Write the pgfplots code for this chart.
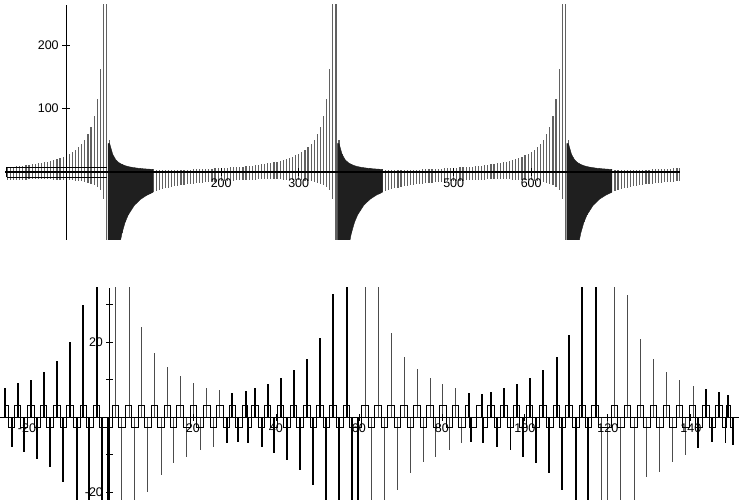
\documentclass[border=0pt]{standalone}
\usepackage{pgfplots}
\pgfplotsset{compat=1.18}
\usepackage{pgfplotstable}
\usepackage{fontspec}
\setmainfont{Liberation Sans}

\pgfplotstableread{
x u l
-76 7.9 -13.1
-72 8.3 -12.9
-68 8.7 -12.6
-64 9.2 -12.4
-60 9.7 -12.2
-56 10.2 -12.0
-52 10.8 -11.8
-48 11.4 -11.6
-44 12.1 -11.5
-40 12.8 -11.3
-36 13.6 -11.2
-32 14.5 -11.3
-28 15.5 -11.4
-24 16.5 -11.6
-20 17.7 -11.7
-16 19.0 -11.9
-12 20.4 -12.0
-8 22.0 -12.2
-4 23.9 -12.4
0 26.1 -12.7
4 28.5 -13.0
8 31.5 -13.3
12 34.9 -13.8
16 39.1 -14.3
20 44.3 -14.9
24 50.9 -15.7
28 59.5 -16.7
32 71.2 -18.1
36 88.2 -20.1
40 114.8 -23.3
44 162.7 -29.0
48 275 -42.3
52 275 -109
56 50.0 -120
60 27.8 -120
64 19.2 -120
68 14.7 -120
72 11.9 -96.2
76 10.0 -79.2
80 8.6 -67.5
84 7.6 -58.9
88 6.8 -52.3
92 6.1 -47.1
96 5.6 -42.9
100 5.1 -39.5
104 4.7 -36.5
108 4.4 -34.1
112 4.1 -31.9
116 3.8 -30.0
120 3.6 -28.4
124 3.4 -27.0
128 3.2 -25.7
132 3.1 -24.5
136 2.9 -23.5
140 2.8 -22.5
144 2.7 -21.6
148 2.6 -20.8
152 2.5 -20.1
156 3.6 -19.4
160 3.8 -18.8
164 4.0 -18.2
168 4.2 -17.7
172 4.4 -17.2
176 4.6 -16.7
180 4.9 -16.3
184 5.1 -15.9
188 5.4 -15.5
192 5.6 -15.2
196 5.9 -14.8
200 6.2 -14.5
204 6.5 -14.2
208 6.8 -13.9
212 7.2 -13.6
216 7.5 -13.4
220 7.9 -13.1
224 8.3 -12.9
228 8.7 -12.6
232 9.2 -12.4
236 9.7 -12.2
240 10.2 -12.0
244 10.8 -11.8
248 11.4 -11.6
252 12.1 -11.5
256 12.8 -11.3
260 13.6 -11.2
264 14.5 -11.3
268 15.5 -11.4
272 16.5 -11.6
276 17.7 -11.7
280 19.0 -11.9
284 20.4 -12.0
288 22.0 -12.2
292 23.9 -12.4
296 26.1 -12.7
300 28.5 -13.0
304 31.5 -13.3
308 34.9 -13.8
312 39.1 -14.3
316 44.3 -14.9
320 50.9 -15.7
324 59.5 -16.7
328 71.2 -18.1
332 88.2 -20.1
336 114.8 -23.3
340 162.7 -29.0
344 275 -42.3
348 275 -109
352 50.0 -120
356 27.8 -120
360 19.2 -120
364 14.7 -120
368 11.9 -96.2
372 10.0 -79.2
376 8.6 -67.5
380 7.6 -58.9
384 6.8 -52.3
388 6.1 -47.1
392 5.6 -42.9
396 5.1 -39.5
400 4.7 -36.5
404 4.4 -34.1
408 4.1 -31.9
412 3.8 -30.0
416 3.6 -28.4
420 3.4 -27.0
424 3.2 -25.7
428 3.1 -24.5
432 2.9 -23.5
436 2.8 -22.5
440 2.7 -21.6
444 2.6 -20.8
448 2.5 -20.1
452 3.6 -19.4
456 3.8 -18.8
460 4.0 -18.2
464 4.2 -17.7
468 4.4 -17.2
472 4.6 -16.7
476 4.9 -16.3
480 5.1 -15.9
484 5.4 -15.5
488 5.6 -15.2
492 5.9 -14.8
496 6.2 -14.5
500 6.5 -14.2
504 6.8 -13.9
508 7.2 -13.6
512 7.5 -13.4
516 7.9 -13.1
520 8.3 -12.9
524 8.7 -12.6
528 9.2 -12.4
532 9.7 -12.2
536 10.2 -12.0
540 10.8 -11.8
544 11.4 -11.6
548 12.1 -11.5
552 12.8 -11.3
556 13.6 -11.2
560 14.5 -11.3
564 15.5 -11.4
568 16.5 -11.6
572 17.7 -11.7
576 19.0 -11.9
580 20.4 -12.0
584 22.0 -12.2
588 23.9 -12.4
592 26.1 -12.7
596 28.5 -13.0
600 31.5 -13.3
604 34.9 -13.8
608 39.1 -14.3
612 44.3 -14.9
616 50.9 -15.7
620 59.5 -16.7
624 71.2 -18.1
628 88.2 -20.1
632 114.8 -23.3
636 162.7 -29.0
640 275 -42.3
644 275 -109
648 50.0 -120
652 27.8 -120
656 19.2 -120
660 14.7 -120
664 11.9 -96.2
668 10.0 -79.2
672 8.6 -67.5
676 7.6 -58.9
680 6.8 -52.3
684 6.1 -47.1
688 5.6 -42.9
692 5.1 -39.5
696 4.7 -36.5
700 4.4 -34.1
704 4.1 -31.9
708 3.8 -30.0
712 3.6 -28.4
716 3.4 -27.0
720 3.2 -25.7
724 3.1 -24.5
728 2.9 -23.5
732 2.8 -22.5
736 2.7 -21.6
740 2.6 -20.8
744 2.5 -20.1
748 3.6 -19.4
752 3.8 -18.8
756 4.0 -18.2
760 4.2 -17.7
764 4.4 -17.2
768 4.6 -16.7
772 4.9 -16.3
776 5.1 -15.9
780 5.4 -15.5
784 5.6 -15.2
788 5.9 -14.8
791 6.2 -14.5
}\toptable

\begin{document}
\begin{tikzpicture}
\useasboundingbox (0,0) rectangle (739pt,503pt);
% ---------------- top panel ----------------
\begin{axis}[
  at={(5pt,263pt)}, anchor=south west, scale only axis,
  width=675pt, height=235pt,
  xmin=-79, xmax=792, ymin=-107, ymax=263,
  axis lines=middle, axis line style={-, line width=1.3pt, black},
  axis on top=true,
  xtick={200,300,500,600}, xticklabels={200,300,500,600},
  ytick={100,200}, yticklabels={100,200},
  tick align=center, major tick length=8pt,
  tick style={line width=0.8pt, black},
  ticklabel style={font=\fontsize{12.5}{14}\selectfont},
  xticklabel style={yshift=1pt},
]
\addplot[ycomb, black!62, line width=1.2pt, no markers] table[x=x, y=u]{\toptable};
\addplot[ycomb, black!62, line width=1.2pt, no markers] table[x=x, y=l]{\toptable};
\addplot[fill=black!88, draw=black!88, line width=0.4pt] coordinates {
 (54,45)(56,45)(60,27.8)(64,19.2)(68,14.7)(72,11.9)(76,10.0)(80,8.6)(84,7.6)(92,6.1)(100,5.1)(112,4.1)
 (112,-31.9)(104,-36.5)(96,-42.9)(88,-52.3)(80,-67.5)(76,-79.2)(72,-96.2)(68,-120)(54,-120)} -- cycle;
\addplot[fill=black!88, draw=black!88, line width=0.4pt] coordinates {
 (350,45)(352,45)(356,27.8)(360,19.2)(364,14.7)(368,11.9)(372,10.0)(376,8.6)(380,7.6)(388,6.1)(396,5.1)(408,4.1)
 (408,-31.9)(400,-36.5)(392,-42.9)(384,-52.3)(376,-67.5)(372,-79.2)(368,-96.2)(364,-120)(350,-120)} -- cycle;
\addplot[fill=black!88, draw=black!88, line width=0.4pt] coordinates {
 (646,45)(648,45)(652,27.8)(656,19.2)(660,14.7)(664,11.9)(668,10.0)(672,8.6)(676,7.6)(684,6.1)(692,5.1)(704,4.1)
 (704,-31.9)(696,-36.5)(688,-42.9)(680,-52.3)(672,-67.5)(668,-79.2)(664,-96.2)(660,-120)(646,-120)} -- cycle;
\addplot[black, line width=0.7pt, no markers] coordinates {(-77,-8)(-77,8)(52,8)};
\addplot[black, line width=0.7pt, no markers] coordinates {(-77,-8)(52,-8)};
\end{axis}
% ---------------- bottom panel ----------------
\begin{axis}[
  at={(0pt,3pt)}, anchor=south west, scale only axis,
  width=739pt, height=212pt,
  xmin=-26.5, xmax=151.6, ymin=-22.1, ymax=34.4,
  axis lines=middle, axis line style={-, line width=1pt, black},
  axis on top=true,
  xtick={-20,20,40,60,80,100,120,140},
  xticklabels={-20,20,40,60,80,100,120,140},
  ytick={-20,-10,10,20,30},
  yticklabels={{-20},{},{},{20},{}},
  tick align=center, major tick length=7pt,
  tick style={line width=0.8pt, black},
  ticklabel style={font=\fontsize{12.5}{14}\selectfont},
]
% thick upward spikes
\addplot[ycomb, black, line width=1.8pt, no markers] coordinates {
 (-25.30,7.7)(-22.24,9)(-19.11,10)(-15.98,12)(-12.84,15)(-9.64,20)(-6.43,30)(-3.20,40)
 (29.47,6.4)(32.70,6.9)(34.94,7.8)(38.00,8.8)(41.13,10.4)(44.27,12.5)(47.40,15.5)(50.60,21)(53.81,32.8)(57.04,40)
 (86.51,6.5)(89.71,6.1)(91.81,6.6)(94.94,7.8)(98.00,8.8)(101.20,10.4)(104.41,12.5)(107.64,16)(110.67,22)(113.81,40)(117.04,40)
 (143.61,7.5)(146.82,6.6)(148.99,5.8)};
% thin upward spikes
\addplot[ycomb, black!70, line width=0.8pt, no markers] coordinates {
 (1.37,40)(4.58,40)(7.64,24)(10.67,17)(13.81,13.4)(16.94,11)(20.07,9)(23.30,7.8)(26.34,7.2)
 (61.45,40)(64.65,40)(67.71,22.4)(70.84,16)(73.98,12.8)(77.11,10.5)(80.17,8.8)(83.37,7.7)
 (121.69,40)(124.75,32.5)(127.95,20.8)(131.01,15.4)(134.14,12)(137.35,10)(140.55,8.4)};
% thick downward spikes
\addplot[ycomb, black, line width=1.8pt, no markers] coordinates {
 (-23.69,-8)(-20.72,-9.4)(-17.52,-11.3)(-14.46,-13.3)(-11.25,-17.3)(-8.02,-30)(-4.99,-30)(-1.86,-30)(-0.41,-30)
 (28.12,-7)(30.92,-6.6)(33.33,-7)(36.55,-8)(39.52,-9.7)(42.58,-11.5)(45.78,-14)(48.99,-18)(52.05,-30)(55.25,-30)(58.39,-30)(59.69,-30)
 (86.92,-6.6)(89.95,-7)(93.37,-8)(96.55,-8.8)(99.59,-10.7)(102.65,-12.3)(105.86,-15)(108.99,-19.5)(112.22,-30)(115.25,-30)
 (141.76,-8.3)(145.14,-6.6)(148.36,-7)(150.19,-7.4)};
% thin downward spikes
\addplot[ycomb, black!70, line width=0.8pt, no markers] coordinates {
 (2.65,-30)(5.86,-30)(9.08,-20)(12.29,-15.5)(15.25,-12.3)(18.48,-10.6)(21.69,-8.8)(24.89,-8)
 (62.89,-30)(66.10,-30)(69.16,-19.5)(72.29,-15)(75.49,-12)(78.55,-10.7)(81.76,-8.8)(84.75,-7)
 (118.48,-30)(119.93,-30)(123.06,-30)(126.27,-30)(129.33,-16)(132.53,-14.7)(135.59,-12)(138.80,-10)};
% square wave
\addplot[const plot mark mid, black, line width=0.8pt, no markers] coordinates {
 (-25.30,3.2)(-23.69,-2.8)(-22.24,3.2)(-20.72,-2.8)(-19.11,3.2)(-17.52,-2.8)(-15.98,3.2)(-14.46,-2.8)
 (-12.84,3.2)(-11.25,-2.8)(-9.64,3.2)(-8.02,-2.8)(-6.43,3.2)(-4.99,-2.8)(-3.20,3.2)(-1.86,-2.8)(-0.41,-2.8)
 (1.37,3.2)(2.65,-2.8)(4.58,3.2)(5.86,-2.8)(7.64,3.2)(9.08,-2.8)(10.67,3.2)(12.29,-2.8)(13.81,3.2)(15.25,-2.8)
 (16.94,3.2)(18.48,-2.8)(20.07,3.2)(21.69,-2.8)(23.30,3.2)(24.89,-2.8)(26.34,3.2)(28.12,-2.8)(29.47,3.2)
 (30.92,-2.8)(32.70,3.2)(33.33,-2.8)(34.94,3.2)(36.55,-2.8)(38.00,3.2)(39.52,-2.8)(41.13,3.2)(42.58,-2.8)
 (44.27,3.2)(45.78,-2.8)(47.40,3.2)(48.99,-2.8)(50.60,3.2)(52.05,-2.8)(53.81,3.2)(55.25,-2.8)(57.04,3.2)
 (58.39,-2.8)(59.69,-2.8)(61.45,3.2)(62.89,-2.8)(64.65,3.2)(66.10,-2.8)(67.71,3.2)(69.16,-2.8)(70.84,3.2)
 (72.29,-2.8)(73.98,3.2)(75.49,-2.8)(77.11,3.2)(78.55,-2.8)(80.17,3.2)(81.76,-2.8)(83.37,3.2)(84.75,-2.8)
 (86.51,3.2)(86.92,-2.8)(89.71,3.2)(89.95,-2.8)(91.81,3.2)(93.37,-2.8)(94.94,3.2)(96.55,-2.8)(98.00,3.2)
 (99.59,-2.8)(101.20,3.2)(102.65,-2.8)(104.41,3.2)(105.86,-2.8)(107.64,3.2)(108.99,-2.8)(110.67,3.2)
 (112.22,-2.8)(113.81,3.2)(115.25,-2.8)(117.04,3.2)(118.48,-2.8)(119.93,-2.8)(121.69,3.2)(123.06,-2.8)
 (124.75,3.2)(126.27,-2.8)(127.95,3.2)(129.33,-2.8)(131.01,3.2)(132.53,-2.8)(134.14,3.2)(135.59,-2.8)
 (137.35,3.2)(138.80,-2.8)(140.55,3.2)(141.76,-2.8)(143.61,3.2)(145.14,-2.8)(146.82,3.2)(148.36,-2.8)
 (148.99,3.2)(150.19,-2.8)};
\end{axis}
\end{tikzpicture}
\end{document}
